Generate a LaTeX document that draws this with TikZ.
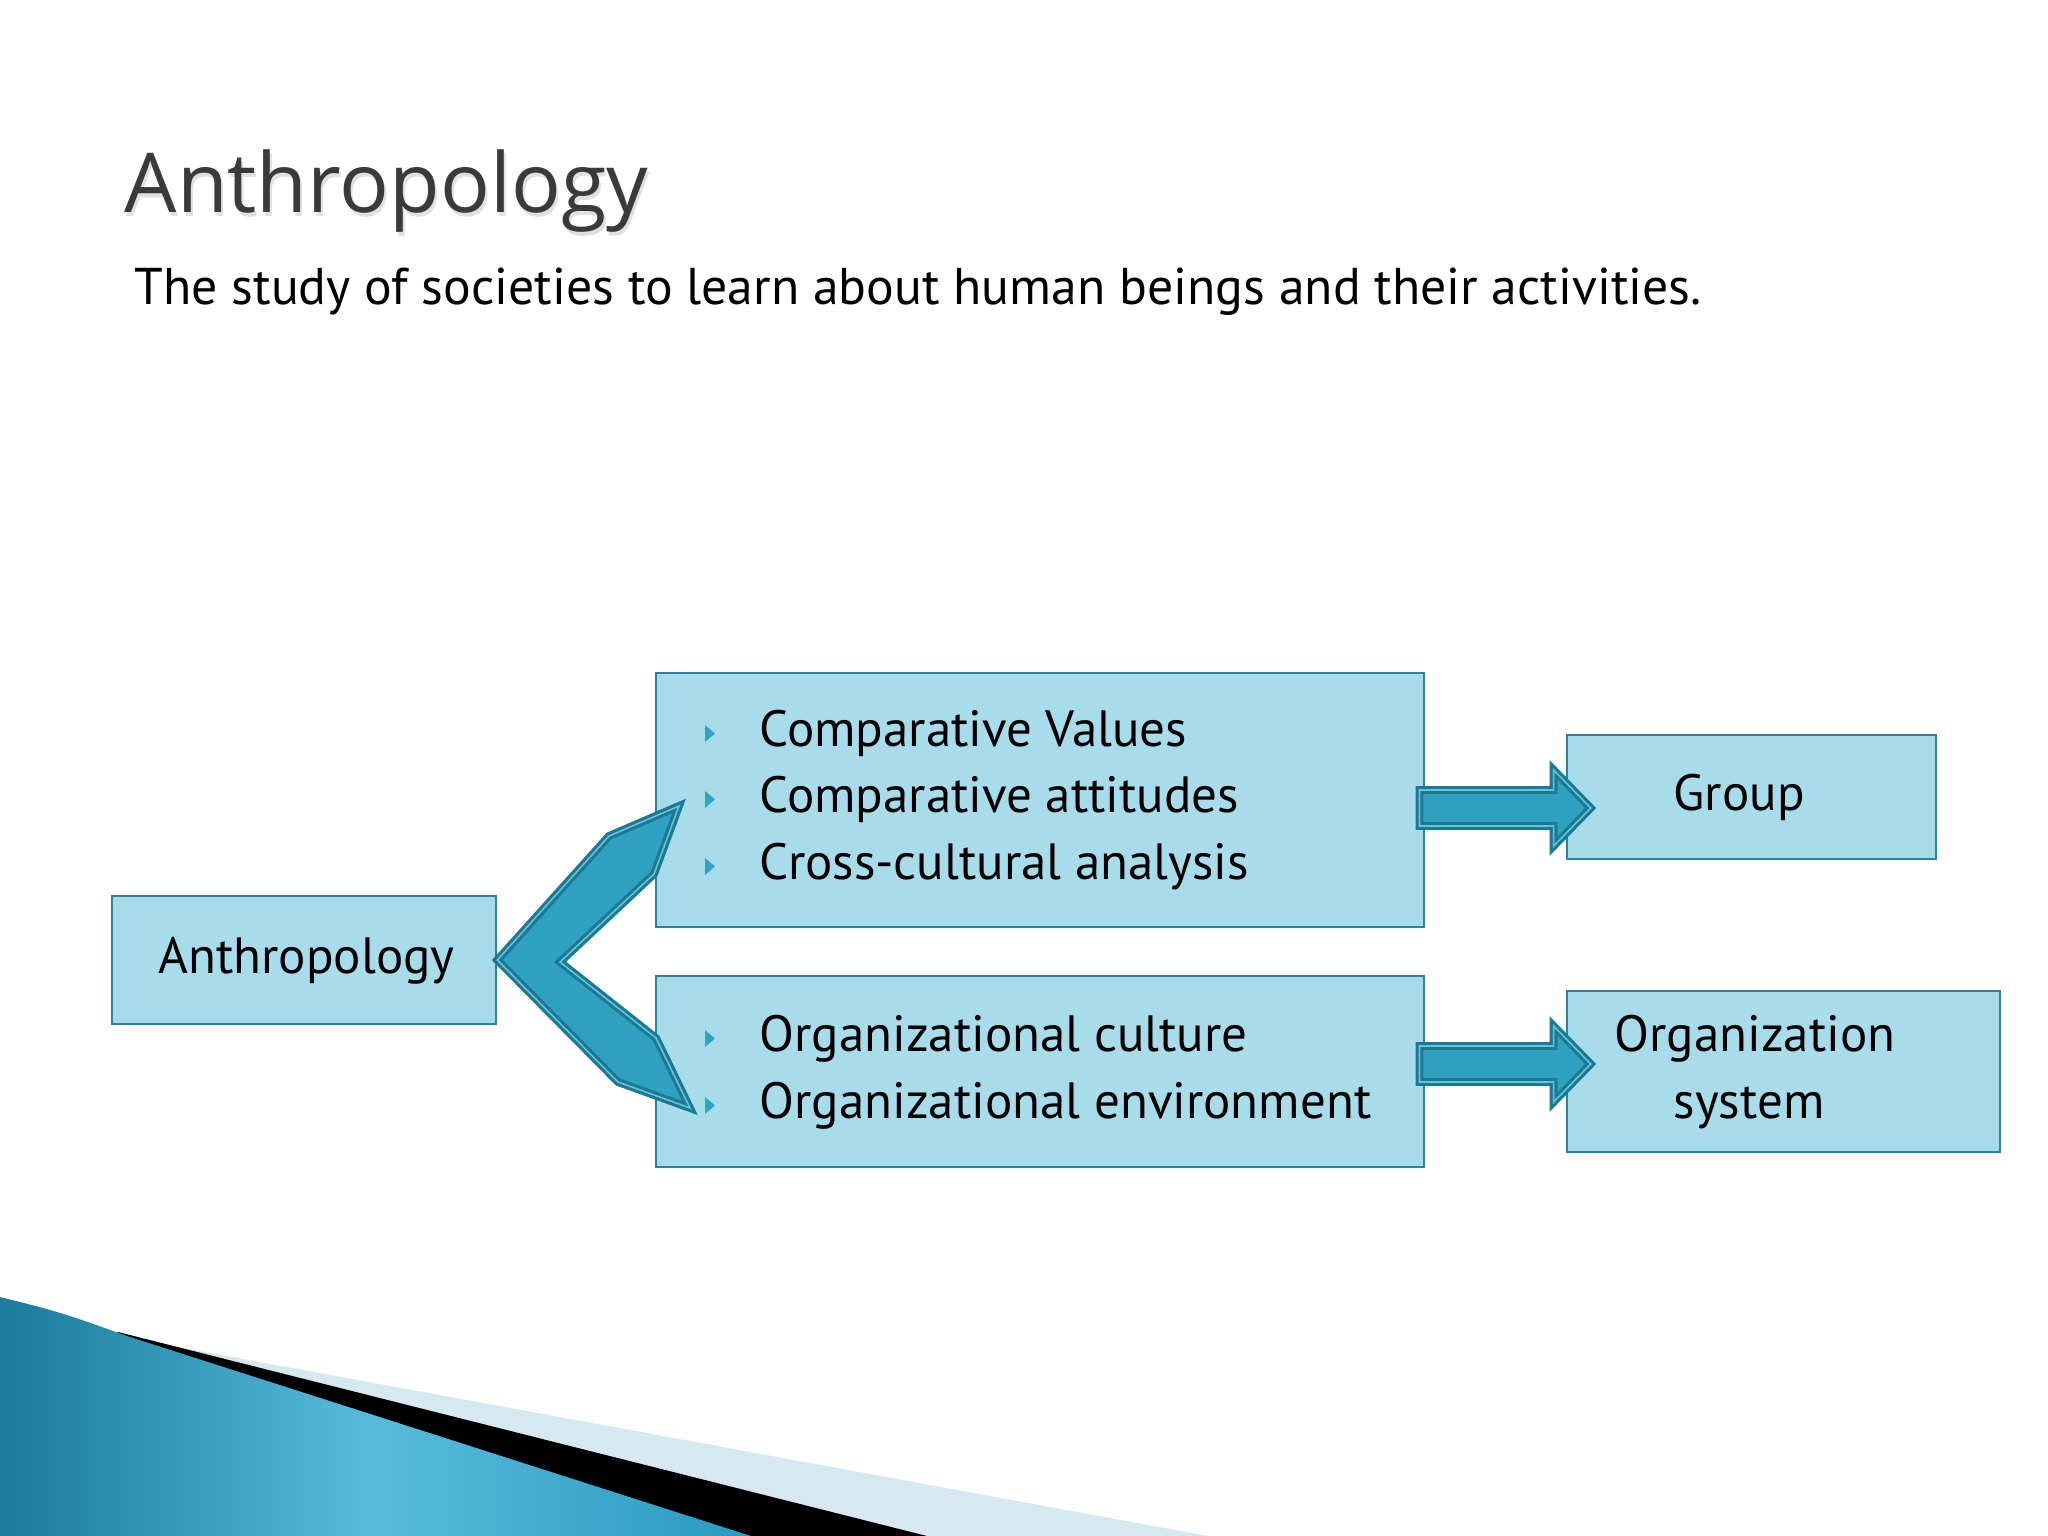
\documentclass[tikz,border=0pt]{standalone}
\usepackage{fontspec}
\setmainfont{PT Sans}
\newfontfamily\titlefont{Open Sans}
\usetikzlibrary{calc}
\definecolor{boxfill}{HTML}{A8DCEA}
\definecolor{boxline}{HTML}{2A8499}
\definecolor{arrowfill}{HTML}{2EA2C0}
\definecolor{arrowdark}{HTML}{1F7891}
\definecolor{arrowlight}{HTML}{62C3DC}
\definecolor{bulletcol}{HTML}{2EA5C4}
\definecolor{swooshlight}{HTML}{D6E8F0}
\definecolor{swooshdark}{HTML}{1A7B9B}
\definecolor{swooshmid}{HTML}{58BCDB}
\definecolor{swooshend}{HTML}{2A9AC0}
\definecolor{titlegray}{HTML}{3A3A3A}
\tikzset{>=stealth,
  box/.style={draw=boxline, fill=boxfill, line width=0.7pt, inner sep=0pt},
  txt/.style={anchor=base west, inner sep=0pt, font=\fontsize{14.5}{17}\selectfont},
  fat/.style={fill=arrowfill, draw=arrowdark, double=arrowlight, line width=0.9pt, double distance=0.45pt}}

\begin{document}
\begin{tikzpicture}[x=0.01cm, y=-0.01cm]
\useasboundingbox (0,0) rectangle (2048,1536);
\fill[swooshlight] (130,1337) -- (167,1345) -- (1208,1536) -- (0,1536) -- cycle;
\fill[black] (118,1332) -- (927,1536) -- (0,1536) -- cycle;
\shade[left color=swooshdark, right color=swooshend, middle color=swooshmid] (0,1297) .. controls (60,1312) .. (130,1337) -- (751,1536) -- (0,1536) -- cycle;

\node[anchor=base west, inner sep=0pt, text=black!12, font=\titlefont\fontsize{23.5}{28}\selectfont] (titleshadow) at (126,216) {Anthropology};
\node[anchor=base west, inner sep=0pt, text=titlegray, font=\titlefont\fontsize{23.5}{28}\selectfont] (title) at (124,212) {Anthropology};
\node[txt, font=\fontsize{14.7}{17}\selectfont] (subtitle) at (134,304) {The study of societies to learn about human beings and their activities.};

\node[box, minimum width=3.84cm, minimum height=1.28cm] (anth) at (304,960) {};
\node[box, minimum width=7.68cm, minimum height=2.54cm] (comp) at (1040,800) {};
\node[box, minimum width=7.68cm, minimum height=1.91cm] (orgenv) at (1040,1071.5) {};
\node[box, minimum width=3.69cm, minimum height=1.24cm] (group) at (1751.5,797) {};
\node[box, minimum width=4.33cm, minimum height=1.61cm] (orgsys) at (1783.5,1071.5) {};

\node[txt] (anthtext) at (158,973) {Anthropology};
\foreach \y/\t [count=\i] in {746/Comparative Values, 812/Comparative attitudes, 879/Cross-cultural analysis}{
  \node[txt] (comp\i) at (759,\y) {\t};
  \fill[bulletcol] (705,\y-21) -- (715,\y-12.5) -- (705,\y-4) -- cycle;}
\foreach \y/\t [count=\i] in {1051/Organizational culture, 1118/Organizational environment}{
  \node[txt] (org\i) at (759,\y) {\t};
  \fill[bulletcol] (705,\y-21) -- (715,\y-12.5) -- (705,\y-4) -- cycle;}
\node[txt] (grouptext) at (1673,810) {Group};
\node[txt] (orgsys1) at (1614,1051) {Organization};
\node[txt] (orgsys2) at (1673,1118) {system};

\draw[fat] (anth.east) -- (609,836) -- (679,806) -- (654,874) -- (560,962) -- (656,1038) -- (690,1108) -- (618,1082) -- cycle;
\foreach \a/\b/\y in {comp/group/808, orgenv/orgsys/1064}{
  \path (\a.east |- 0,\y) coordinate (s) (\b.west |- 0,\y) coordinate (e);
  \draw[fat] ($(s)+(-6,-18)$) -- ($(e)+(-12,-18)$) -- ($(e)+(-12,-38)$) -- ($(e)+(25,0)$)
    -- ($(e)+(-12,38)$) -- ($(e)+(-12,18)$) -- ($(s)+(-6,18)$) -- cycle;}
\end{tikzpicture}
\end{document}
